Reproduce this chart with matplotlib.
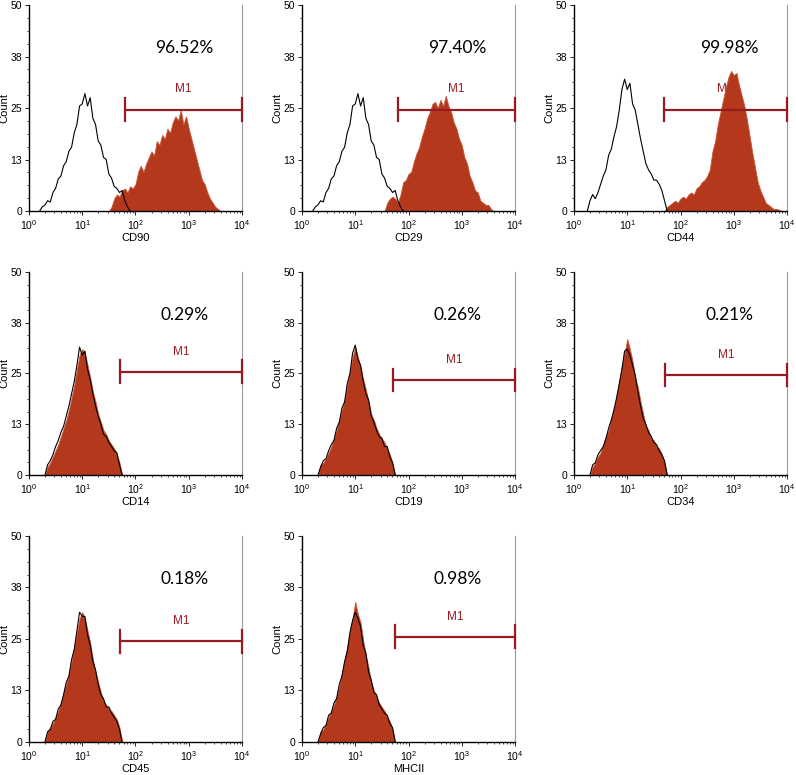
import numpy as np
import matplotlib as mpl
mpl.use('Agg')
import matplotlib.pyplot as plt
from matplotlib.ticker import FixedLocator, LogLocator, LogFormatterMathtext, NullFormatter

plt.rcParams['font.family'] = ['Liberation Sans', 'DejaVu Sans']
plt.rcParams['mathtext.default'] = 'regular'

# histogram counts, one value every 0.05 log10 units from the given start
markers = ['CD90', 'CD29', 'CD44', 'CD14', 'CD19', 'CD34', 'CD45', 'MHCII']
percents = ['96.52%', '97.40%', '99.98%', '0.29%', '0.26%', '0.21%', '0.18%', '0.98%']

ctrl_start = [0.20, 0.20, 0.25, 0.30, 0.30, 0.30, 0.30, 0.30]
samp_start = [1.50, 1.55, 1.70, 0.30, 0.30, 0.30, 0.30, 0.30]

ctrl_cd90 = [0, 1, 1.5, 2.5, 2.2, 4.5, 5.5, 7.8, 8.5, 11, 12, 14.5, 15.5, 19, 21, 25.5, 26, 28.5,
             25.5, 27.5, 22.5, 21, 17, 16, 13, 12.5, 9, 8, 6, 5.5, 4.5, 5, 2.5, 1, 0]
ctrl_cd29 = ctrl_cd90
ctrl_cd44 = [0, 2.5, 4, 3, 4.5, 6.5, 8.5, 10, 13.5, 15, 18, 20.5, 24.5, 29.5, 32, 29.5, 31, 26,
             24.5, 21, 17.5, 14.5, 11.5, 10, 9, 7.5, 7.5, 6.5, 5, 2.5, 0]
ctrl_cd14 = [0, 2.5, 3.5, 5, 7, 8.5, 10.5, 12, 14.5, 17, 20, 23, 27, 31.5, 29.5, 30.5, 26, 23.5,
             20, 17, 14.5, 12.5, 10, 9.5, 8, 7, 6, 5.5, 2.5, 0]
ctrl_cd19 = [0, 2, 3.5, 4, 6, 7.5, 8.5, 11.5, 13, 16.5, 18, 22.5, 25, 30, 32, 28.5, 27, 23,
             20, 18.5, 14.5, 13, 11, 9.5, 9, 7, 7, 4.5, 3, 0]
ctrl_cd34 = [0, 2.5, 3, 5, 6, 7, 9, 11.5, 13.5, 16, 19, 22.5, 26, 30.5, 31, 29.5, 27, 24.5,
             20.5, 17, 14, 12.5, 10.5, 9.5, 8, 7.5, 6, 5, 3.5, 0]
ctrl_cd45 = [0, 2.5, 3, 5, 5.5, 8, 9, 11.5, 14.5, 16, 20, 22.5, 27, 31.5, 30.5, 30.5, 26, 23.5,
             19.5, 17.5, 14, 11.5, 10.5, 8.5, 8.5, 7, 6, 5, 3, 0]
ctrl_mhc = [0, 2, 3.5, 4, 6.5, 7, 9.5, 10.5, 14, 16, 19.5, 22, 26.5, 29.5, 31.5, 30, 28, 23.5,
            21.5, 17, 15, 12, 11.5, 9, 8, 7, 6.5, 4.5, 3.5, 0]

samp_cd90 = [0, 1, 3, 4, 3.5, 5, 5.5, 4.5, 6, 5.5, 6.5, 9.5, 11, 9.5, 11.5, 13, 14.5, 13.5, 17,
             16, 18.5, 17.5, 20, 19, 21.5, 23, 22, 24.5, 21, 23, 20, 17.5, 15, 12.5, 10, 7.5,
             6.5, 4.5, 3, 2, 1, 0.5, 0]
samp_cd29 = [0, 2, 3, 3.5, 3, 2, 4, 7, 7.5, 9, 9.5, 12, 14, 15.5, 18, 20, 22.5, 24, 26, 26.5,
             25, 27, 25.5, 28, 25.5, 24, 21.5, 20, 17.5, 16, 13, 11.5, 8.5, 7, 5, 4.5, 2.5, 2,
             1.5, 1.5, 0.5, 0]
samp_cd44 = [0, 1, 1.5, 2, 2.5, 2, 3, 3.5, 3, 4, 4.5, 4, 5.5, 6, 7, 7.5, 8.5, 10, 14.5, 17, 21,
             24, 27, 30, 32.5, 34, 33, 33.5, 30.5, 28, 25.5, 22, 18, 14, 10.5, 7, 5, 3.5, 2,
             1.5, 1, 0.5, 0.5, 0.3, 0]
samp_cd14 = [0, 2, 3, 4.5, 6, 7.5, 9.5, 11.5, 13.5, 16, 19, 22, 26, 29.5, 31, 30, 27, 24,
             20.5, 18, 15, 13, 11, 10, 8.5, 7.5, 6.5, 5, 3, 0]
samp_cd19 = [0, 2.5, 3, 4, 5.5, 7, 9, 11, 13.5, 16, 18.5, 22, 25.5, 29, 31.5, 29, 26.5, 23.5,
             21, 18, 15, 13.5, 11.5, 10, 9, 8, 6.5, 5, 3, 0]
samp_cd34 = [0, 2, 3, 4.5, 5.5, 7.5, 9.5, 11, 14, 16.5, 19.5, 23, 27, 30, 33.5, 31, 28, 24,
             21.5, 18, 15, 12, 11, 9, 8.5, 7, 6.5, 5, 3, 0]
samp_cd45 = [0, 2.5, 3.5, 4.5, 6, 7.5, 9.5, 12, 14, 16.5, 19.5, 23, 26.5, 30, 31.5, 30, 27, 24,
             20, 17, 14.5, 12, 10, 9, 8, 7.5, 6.5, 5.5, 3.5, 0]
samp_mhc = [0, 2.5, 3, 4.5, 6, 7.5, 9, 11, 13.5, 16.5, 20, 23, 27, 30, 34, 31, 29, 24.5,
            21, 18, 14.5, 12.5, 11, 9.5, 8.5, 7.5, 6, 5, 3, 0]

ctrl = [ctrl_cd90, ctrl_cd29, ctrl_cd44, ctrl_cd14, ctrl_cd19, ctrl_cd34, ctrl_cd45, ctrl_mhc]
samp = [samp_cd90, samp_cd29, samp_cd44, samp_cd14, samp_cd19, samp_cd34, samp_cd45, samp_mhc]

# M1 gate: start value, count level
gate_start = [63, 63, 50, 51, 51, 51, 51, 56]
gate_level = [24.6, 24.6, 24.6, 25.4, 23.4, 24.6, 24.5, 25.5]

fill_col = '#b4391c'
gate_col = '#961c20'

fig = plt.figure(figsize=(7.96, 7.75), dpi=100)

col_left = [0.0364, 0.3794, 0.7211]
row_bottom = [0.7277, 0.3871, 0.0426]
row_height = [0.2658, 0.262, 0.2658]

for i, name in enumerate(markers):
    r, c = divmod(i, 3)
    ax = fig.add_axes([col_left[c], row_bottom[r], 0.2676, row_height[r]])

    xs = 10 ** (samp_start[i] + 0.05 * np.arange(len(samp[i])))
    xc = 10 ** (ctrl_start[i] + 0.05 * np.arange(len(ctrl[i])))
    ax.fill_between(xs, samp[i], color=fill_col, lw=0.6, edgecolor='#c9563a', zorder=2)
    ax.plot(xc, ctrl[i], color='black', lw=0.8, zorder=3)

    # gate marker
    g0 = gate_start[i]
    gl = gate_level[i]
    ax.plot([g0, 1e4], [gl, gl], color=gate_col, lw=1.6, zorder=4, clip_on=False)
    ax.plot([g0, g0], [gl - 2.8, gl + 2.8], color=gate_col, lw=1.6, zorder=4, clip_on=False)
    ax.plot([1e4, 1e4], [gl - 2.8, gl + 2.8], color=gate_col, lw=1.6, zorder=4, clip_on=False)
    ax.text(np.sqrt(g0 * 1e4), gl + 3.5, 'M1', color=gate_col, fontsize=8.5, ha='center',
            va='bottom', zorder=1)

    ax.text(0.73, 0.79, percents[i], transform=ax.transAxes, fontsize=12.5, ha='center',
            va='center', family=['Lato', 'DejaVu Sans'])

    ax.set_xscale('log')
    ax.set_xlim(1, 1e4)
    ax.set_ylim(0, 50)
    ax.xaxis.set_major_locator(LogLocator(base=10, numticks=10))
    ax.xaxis.set_major_formatter(LogFormatterMathtext())
    ax.xaxis.set_minor_locator(LogLocator(base=10, subs=np.arange(2, 10), numticks=20))
    ax.xaxis.set_minor_formatter(NullFormatter())
    ax.yaxis.set_major_locator(FixedLocator([0, 12.5, 25, 37.5, 50]))
    ax.set_yticklabels(['0', '13', '25', '38', '50'])
    ax.yaxis.set_minor_locator(FixedLocator(np.arange(0, 50.1, 3.125)))
    ax.tick_params(which='major', direction='out', length=3, width=0.6, labelsize=7.5, pad=2)
    ax.tick_params(which='minor', direction='out', length=1.5, width=0.5)
    ax.set_xlabel(name, fontsize=8, labelpad=1)
    ax.set_ylabel('Count', fontsize=8, labelpad=1)
    ax.spines['top'].set_visible(False)
    ax.spines['right'].set_color('#999999')
    ax.spines['right'].set_linewidth(0.8)
    ax.spines['left'].set_linewidth(1)
    ax.spines['bottom'].set_linewidth(1)

plt.savefig('out.png', dpi=100)
plt.close()
